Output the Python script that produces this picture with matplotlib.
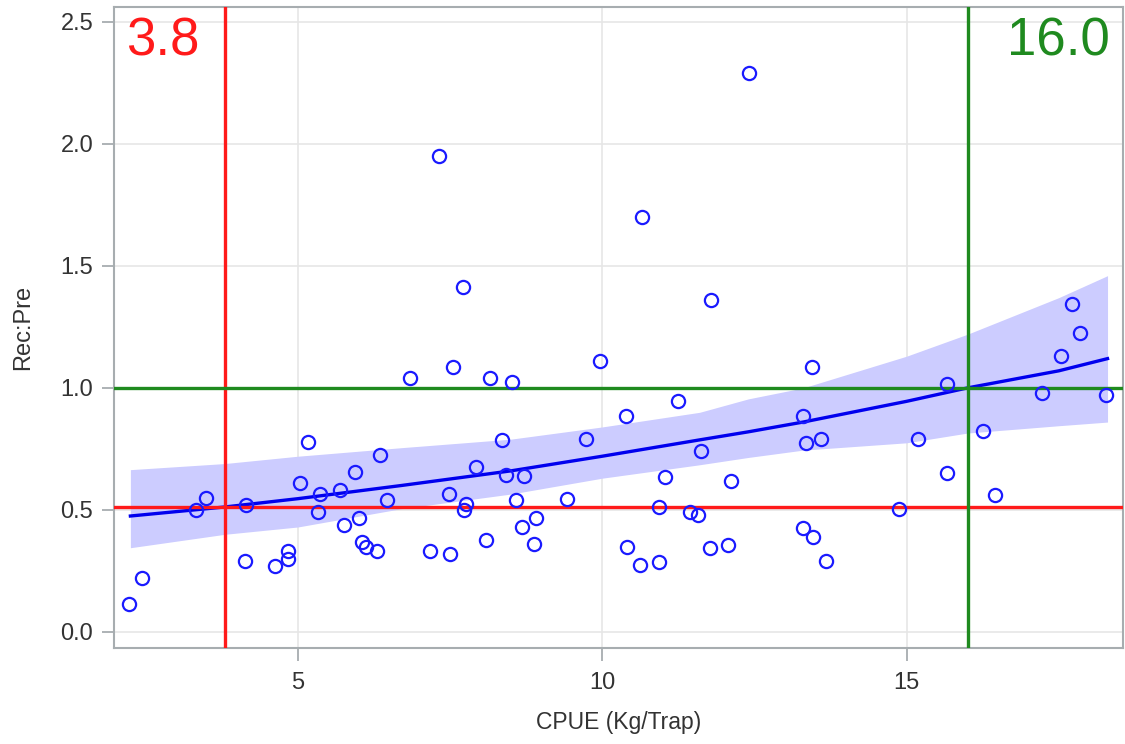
import numpy as np
import matplotlib
matplotlib.use('Agg')
import matplotlib.pyplot as plt

plt.rcParams['font.family'] = ['Liberation Sans', 'DejaVu Sans']

# CPUE vs recruit:pre-recruit ratio
cpue = [2.22, 2.44, 3.33, 3.49, 4.15, 4.13, 4.62, 4.84, 4.84, 5.03,
        5.16, 5.33, 5.36, 5.69, 5.76, 5.94, 6.00, 6.05, 6.12, 6.30,
        6.35, 6.46, 6.84, 7.17, 7.32, 7.50, 7.48, 7.55, 7.71, 7.73,
        7.76, 7.92, 8.09, 8.15, 8.35, 8.42, 8.51, 8.58, 8.71, 8.69,
        8.88, 8.91, 9.42, 9.73, 9.96, 10.39, 10.40, 10.62, 10.65, 10.93,
        10.94, 11.03, 11.24, 11.44, 11.57, 11.63, 11.77, 11.78, 12.06, 12.11,
        12.41, 13.29, 13.29, 13.34, 13.44, 13.47, 13.60, 13.67, 14.88, 15.18,
        15.67, 15.67, 16.26, 16.45, 17.23, 17.53, 17.71, 17.84, 18.28]
ratio = [0.115, 0.22, 0.50, 0.55, 0.52, 0.29, 0.27, 0.33, 0.30, 0.61,
         0.78, 0.49, 0.565, 0.58, 0.44, 0.655, 0.465, 0.37, 0.35, 0.33,
         0.725, 0.54, 1.04, 0.33, 1.95, 0.32, 0.565, 1.085, 1.415, 0.50,
         0.525, 0.675, 0.375, 1.04, 0.785, 0.645, 1.025, 0.54, 0.64, 0.43,
         0.36, 0.465, 0.545, 0.79, 1.11, 0.885, 0.35, 0.275, 1.70, 0.51,
         0.285, 0.635, 0.945, 0.49, 0.48, 0.74, 0.345, 1.36, 0.355, 0.62,
         2.29, 0.425, 0.885, 0.775, 1.085, 0.39, 0.79, 0.29, 0.505, 0.79,
         0.65, 1.015, 0.825, 0.56, 0.98, 1.13, 1.345, 1.225, 0.97]

# fitted curve and 95% band
fit_x = [2.25, 3.8, 5.0, 6.7, 8.5, 10.0, 11.6, 12.4, 13.3, 15.0, 16.0, 17.5, 18.3]
fit_y = [0.475, 0.512, 0.546, 0.60, 0.66, 0.72, 0.787, 0.82, 0.86, 0.945, 1.0, 1.07, 1.12]
fit_lo = [0.345, 0.40, 0.43, 0.505, 0.565, 0.63, 0.685, 0.715, 0.745, 0.775, 0.815, 0.845, 0.86]
fit_hi = [0.665, 0.69, 0.72, 0.755, 0.79, 0.84, 0.90, 0.955, 1.0, 1.13, 1.22, 1.37, 1.46]

# reference points
lo_cpue, lo_ratio = 3.8, 0.512
hi_cpue, hi_ratio = 16.0, 1.0

red = '#ff1a1a'
green = '#1f8a1f'

fig = plt.figure(figsize=(11.25, 7.44), dpi=100)
ax = fig.add_axes([0.1013, 0.129, 0.8967, 0.8616])

ax.fill_between(fit_x, fit_lo, fit_hi, color='#ccccff', lw=0, zorder=2)
ax.plot(fit_x, fit_y, color='#0000ee', lw=2.4, zorder=3)

ax.axvline(lo_cpue, color=red, lw=2.4, zorder=4)
ax.axhline(lo_ratio, color=red, lw=2.4, zorder=4)
ax.axvline(hi_cpue, color=green, lw=2.4, zorder=4)
ax.axhline(hi_ratio, color=green, lw=2.4, zorder=4)

ax.plot(cpue, ratio, 'o', ms=9.5, mfc='none', mec='#1a1aff', mew=1.6, zorder=5)

ax.text(0.012, 0.985, '%.1f' % lo_cpue, color=red, fontsize=38,
        transform=ax.transAxes, ha='left', va='top')
ax.text(0.987, 0.985, '%.1f' % hi_cpue, color=green, fontsize=38,
        transform=ax.transAxes, ha='right', va='top')

ax.set_xlim(1.98, 18.55)
ax.set_ylim(-0.066, 2.561)
ax.set_xticks([5, 10, 15])
ax.set_yticks([0.0, 0.5, 1.0, 1.5, 2.0, 2.5])
ax.set_yticklabels(['0.0', '0.5', '1.0', '1.5', '2.0', '2.5'])
ax.grid(True, color='#e6e6e6', lw=1.2, zorder=0)
ax.set_axisbelow(True)

for s in ax.spines.values():
    s.set_color('#a7adb0')
    s.set_linewidth(1.5)
ax.tick_params(colors='#a7adb0', length=9, width=1.3, labelcolor='#333333', labelsize=17)
ax.tick_params(axis='x', pad=8)
ax.tick_params(axis='y', pad=6)

ax.set_xlabel('CPUE (Kg/Trap)', fontsize=16.5, color='#333333')
ax.set_ylabel('Rec:Pre', fontsize=17, color='#333333')
ax.xaxis.set_label_coords(0.5, -0.098)
ax.yaxis.set_label_coords(-0.079, 0.5)

fig.savefig('out.png', dpi=100)
